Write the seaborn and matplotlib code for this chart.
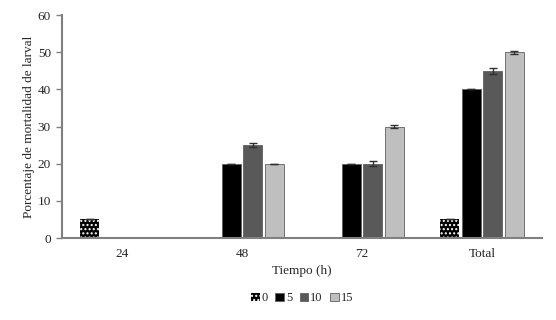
import pandas as pd
import numpy as np
from matplotlib import pyplot as plt
import seaborn as sns

tiempos = ["24", "48", "72", "Total"]
dosis = ["0", "5", "10", "15"]
mortalidad = {
    "0": [5, 0, 0, 5],
    "5": [0, 20, 20, 40],
    "10": [0, 25, 20, 45],
    "15": [0, 20, 30, 50],
}
error = {
    "0": [0, 0, 0, 0],
    "5": [0, 0, 0, 0],
    "10": [0, 0.6, 0.7, 0.8],
    "15": [0, 0, 0.4, 0.4],
}

rows = []
for d in dosis:
    for i, t in enumerate(tiempos):
        rows.append([t, d, mortalidad[d][i], error[d][i]])
df = pd.DataFrame(rows, columns=["Tiempo", "Dosis", "Mortalidad", "Error"])

colores = ["#000000", "#000000", "#595959", "#bfbfbf"]

sns.set_style("white")
plt.rcParams["font.family"] = ["Liberation Serif", "DejaVu Serif"]
plt.rcParams["hatch.linewidth"] = 1.0

fig = plt.figure(figsize=(5.56, 3.2), dpi=100)
ax = fig.add_axes([0.1115, 0.256, 0.8635, 0.697])
sns.barplot(data=df, x="Tiempo", y="Mortalidad", hue="Dosis",
            order=tiempos, hue_order=dosis, palette=colores,
            width=0.72, gap=0.12, errorbar=None, ax=ax,
            edgecolor="#606060", linewidth=0.6, legend=False)

bars = list(ax.containers)

# dotted pattern for dose 0, then error bars
for j, d in enumerate(dosis):
    xs = []
    for p in bars[j].patches:
        if d == "0":
            p.set_hatch("....")
            p.set_edgecolor("white")
            p.set_linewidth(0)
        xs.append(p.get_x() + p.get_width() / 2)
    ax.errorbar(xs, mortalidad[d], yerr=error[d], fmt="none",
                ecolor="#303030", elinewidth=1, capsize=3, capthick=1)

ax.set_ylim(0, 60)
ax.set_xlim(-0.5, 3.5)
ax.set_yticks(range(0, 61, 10))
ax.tick_params(axis="y", left=True, length=4, width=1, color="#808080",
               labelsize=9.5, pad=4)
ax.tick_params(axis="x", bottom=False, labelsize=9.5, pad=4)
for s in ["top", "right"]:
    ax.spines[s].set_visible(False)
for s in ["left", "bottom"]:
    ax.spines[s].set_color("#808080")
    ax.spines[s].set_linewidth(1.5)
ax.set_xlabel("Tiempo (h)", fontsize=9.5, labelpad=3)
ax.set_ylabel("Porcentaje de mortalidad de larval", fontsize=9.5, labelpad=2)

leg = ax.legend([c.patches[0] for c in bars], dosis, loc="center",
                bbox_to_anchor=(0.5, -0.27), ncol=4, frameon=False,
                fontsize=9, handlelength=0.7, handleheight=0.7,
                handletextpad=0.15, columnspacing=0.6)

fig.savefig("out.png", dpi=100)
